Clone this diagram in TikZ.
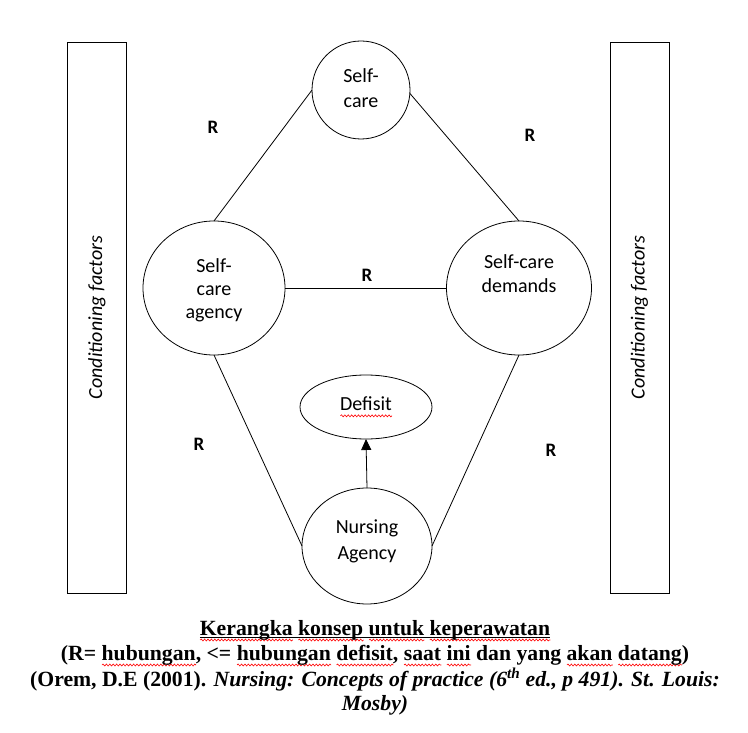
\documentclass[tikz,border=0pt]{standalone}
\usepackage{fontspec}
\setmainfont{Liberation Serif}
\newfontfamily\calib{Carlito}
\usetikzlibrary{shapes.geometric,arrows.meta,decorations.pathmorphing}
\newlength\rwlen
\newcommand\rw[1]{\settowidth\rwlen{#1}\leavevmode\rlap{\raisebox{-5pt}[0pt][0pt]{\tikz[x=1pt,y=1pt,baseline=0pt]\draw[red,line width=0.6pt] decorate[decoration={snake,amplitude=1pt,segment length=3.4pt}]{(0,0)--(\the\rwlen,0)};}}#1}
\begin{document}
\begin{tikzpicture}[x=1pt,y=-1pt,
 every node/.style={inner sep=0pt,outer sep=0pt},
 conn/.style={line width=0.8pt},
 bubble/.style={draw, ellipse, line width=0.8pt},
 btext/.style={align=center, font=\calib\fontsize{20}{25}\selectfont},
 sidebar/.style={draw, rectangle, line width=0.9pt, rotate=90, minimum width=551pt, minimum height=59pt, font=\calib\itshape\fontsize{20}{24}\selectfont},
 rlab/.style={font=\calib\bfseries\fontsize{19}{22}\selectfont},
 captext/.style={anchor=base, font=\bfseries\fontsize{21.7}{25}\selectfont}]
\fill[white] (0,0) rectangle (748,733);
\useasboundingbox (0,0) rectangle (748,733);
% side bars
\node[sidebar] (cfL) at (97,317.5) {Conditioning factors};
\node[sidebar] (cfR) at (639.5,317.5) {Conditioning factors};
% bubbles
\node[bubble, minimum width=98pt, minimum height=98pt] (sc) at (361,90) {};
\node[bubble, minimum width=142pt, minimum height=134pt] (sca) at (214,288) {};
\node[bubble, minimum width=145pt, minimum height=134pt] (scd) at (519,288) {};
\node[bubble, minimum width=132pt, minimum height=64pt] (def) at (366,407) {};
\node[bubble, minimum width=130pt, minimum height=116pt] (na) at (367,546) {};
% bubble texts
\node[btext] (scT) at (361,88) {Self-\\care};
\node[btext, font=\calib\fontsize{20}{23}\selectfont] (scaT) at (214,290) {Self-\\care\\agency};
\node[btext, font=\calib\fontsize{20}{24}\selectfont] (scdT) at (519,274) {Self-care\\demands};
\node[btext] (defT) at (366,404) {\rw{Defisit}};
\node[btext, font=\calib\fontsize{20}{26}\selectfont] (naT) at (367,541) {Nursing\\Agency};
% connectors
\draw[conn] (sc.west) -- (sca.north);
\draw[conn] (sc.-4) -- (scd.north);
\draw[conn] (sca.east) -- (scd.west);
\draw[conn] (sca.south) -- (na.west);
\draw[conn] (scd.south) -- (na.east);
\draw[conn, -{Triangle[width=10pt,length=11pt]}] (na.north) -- (def.south);
% R labels
\node[rlab] (r1) at (213,127) {R};
\node[rlab] (r2) at (530,135) {R};
\node[rlab] (r3) at (367,275) {R};
\node[rlab] (r4) at (199,444) {R};
\node[rlab] (r5) at (551,450) {R};
% caption
\node[captext] (c1) at (375,635) {\rw{Kerangka} \rw{konsep} \rw{untuk} \rw{keperawatan}};
\draw[line width=1pt] ([yshift=-2.5pt]c1.base west) -- ([yshift=-2.5pt]c1.base east);
\node[captext] (c2) at (375,660) {(R= \rw{hubungan}, <= \rw{hubungan} \rw{defisit}, \rw{saat} \rw{ini} dan yang \rw{akan} \rw{datang})};
\node[captext] (c3) at (375,686) {(Orem, D.E (2001). \textit{Nursing: Concepts of practice (6\textsuperscript{th} ed., p 491). St. Louis:}};
\node[captext] (c4) at (375,710) {\textit{Mosby)}};
\end{tikzpicture}
\end{document}
